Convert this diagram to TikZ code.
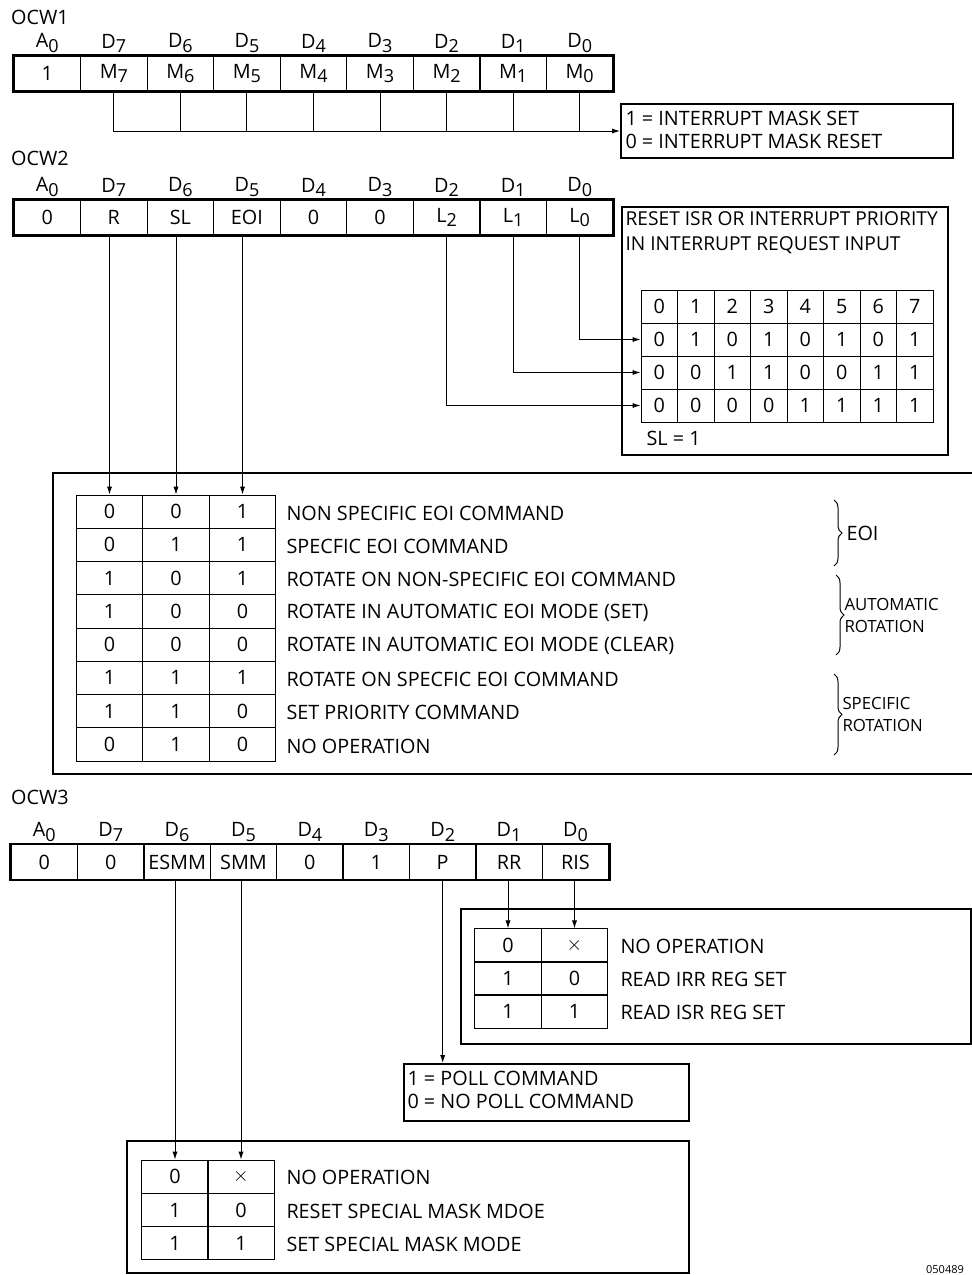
\documentclass[tikz,border=0pt]{standalone}
\usepackage{fontspec}
\setmainfont{Open Sans}
\usetikzlibrary{calc,arrows.meta,decorations.pathreplacing,positioning}

\newcommand{\lowix}[1]{\raisebox{-0.45ex}{\small #1}}
\tikzset{
  reg/.style={draw,line width=0.6pt,minimum width=33.25pt,minimum height=17.5pt,inner sep=0pt},
  bitlbl/.style={inner sep=0pt},
  tcell/.style={draw,line width=0.5pt,minimum width=33.25pt,minimum height=16.6pt,inner sep=0pt},
  pcell/.style={draw,line width=0.5pt,minimum width=18.25pt,minimum height=16.5pt,inner sep=0pt},
  desc/.style={anchor=west,inner sep=0pt},
  frame/.style={draw,line width=1pt,anchor=north west},
  note/.style={anchor=west,align=left,inner sep=0pt,font=\fontsize{9.9}{11.5}\selectfont},
  grp/.style={anchor=west,align=left,inner sep=0pt,font=\fontsize{8.4}{11}\selectfont},
  curly/.style={decorate,decoration={brace,amplitude=4pt},line width=0.5pt},
}

\begin{document}
\begin{tikzpicture}[>={Latex[length=4pt,width=2.6pt]},x=0.5pt,y=-0.5pt,
  font=\fontsize{9.9}{11}\selectfont,line width=0.5pt]
  \useasboundingbox (0,0) rectangle (972,1275);

  % OCW1
  \node[anchor=west] (ocw1) at (4,17) {OCW1};
  \foreach \i/\b/\v in {0/A\lowix{0}/1,1/D\lowix{7}/M\lowix{7},2/D\lowix{6}/M\lowix{6},
      3/D\lowix{5}/M\lowix{5},4/D\lowix{4}/M\lowix{4},5/D\lowix{3}/M\lowix{3},
      6/D\lowix{2}/M\lowix{2},7/D\lowix{1}/M\lowix{1},8/D\lowix{0}/M\lowix{0}} {
    \node[reg] (wa\i) at ({47.3+66.55*\i},73.5) {\v};
    \node[bitlbl,above=1pt of wa\i] {\b};
  }
  \draw[line width=1.2pt] (wa0.north west) rectangle (wa8.south east);
  \node[frame,minimum width=166pt,minimum height=27pt] (mask) at (620,103) {};
  \node[note] (masktxt) at (625,130) {1 = INTERRUPT MASK SET\\0 = INTERRUPT MASK RESET};
  \draw[->] (wa1.south) |- (mask.west);
  \foreach \i in {2,...,8} \draw (wa\i.south) -- (wa\i.south |- mask.west);

  % OCW2
  \node[anchor=west] (ocw2) at (4,158) {OCW2};
  \foreach \i/\b/\v in {0/A\lowix{0}/0,1/D\lowix{7}/R,2/D\lowix{6}/SL,
      3/D\lowix{5}/EOI,4/D\lowix{4}/0,5/D\lowix{3}/0,
      6/D\lowix{2}/L\lowix{2},7/D\lowix{1}/L\lowix{1},8/D\lowix{0}/L\lowix{0}} {
    \node[reg] (wb\i) at ({47.3+66.55*\i},217.5) {\v};
    \node[bitlbl,above=1pt of wb\i] {\b};
  }
  \draw[line width=1.2pt] (wb0.north west) rectangle (wb8.south east);

  % priority levels
  \node[frame,minimum width=163pt,minimum height=124pt] (prio) at (621,206) {};
  \node[note,anchor=north west,font=\fontsize{9.6}{12.5}\selectfont] (priottl) at (625,211)
    {RESET ISR OR INTERRUPT PRIORITY\\IN INTERRUPT REQUEST INPUT};
  \foreach \c in {0,...,7} \node[pcell] (p0-\c) at ({659.25+36.5*\c},306.5) {\c};
  \foreach \r/\vals in {1/{0,1,0,1,0,1,0,1},2/{0,0,1,1,0,0,1,1},3/{0,0,0,0,1,1,1,1}}
    \foreach \v [count=\c from 0] in \vals
      \node[pcell] (p\r-\c) at ({659.25+36.5*\c},{306.5+33*\r}) {\v};
  \node[anchor=west,inner sep=0pt] (slnote) at (646,438) {SL = 1};
  \draw[->] (wb8.south) |- (p1-0.west);
  \draw[->] (wb7.south) |- (p2-0.west);
  \draw[->] (wb6.south) |- (p3-0.west);

  % R, SL, EOI commands
  \node[frame,minimum width=461.5pt,minimum height=150.5pt] (cmdbox) at (52,472) {};
  \foreach \r/\a/\b/\e/\t in {1/0/0/1/NON SPECIFIC EOI COMMAND,2/0/1/1/SPECFIC EOI COMMAND,
      3/1/0/1/ROTATE ON NON-SPECIFIC EOI COMMAND,4/1/0/0/ROTATE IN AUTOMATIC EOI MODE (SET),
      5/0/0/0/ROTATE IN AUTOMATIC EOI MODE (CLEAR),6/1/1/1/ROTATE ON SPECFIC EOI COMMAND,
      7/1/1/0/SET PRIORITY COMMAND,8/0/1/0/NO OPERATION} {
    \node[tcell] (k\r-1) at (109.5,{478.4+33.25*\r}) {\a};
    \node[tcell] (k\r-2) at (176,{478.4+33.25*\r}) {\b};
    \node[tcell] (k\r-3) at (242.5,{478.4+33.25*\r}) {\e};
    \node[desc] (kd\r) at (286,{480+33.25*\r}) {\t};
  }
  \foreach \i in {1,2,3} \draw[->] (wb\i.south -| k1-\i.north) -- (k1-\i.north);
  \draw[curly] (834,500) -- (834,566) node[grp,midway,right=6pt,font=\fontsize{9.9}{11}\selectfont] (geoi) {EOI};
  \draw[curly] (836,575) -- (836,655) node[grp,midway,right=4pt] (gauto) {AUTOMATIC\\ROTATION};
  \draw[curly] (834,674) -- (834,755) node[grp,midway,right=4pt] (gspec) {SPECIFIC\\ROTATION};

  % OCW3
  \node[anchor=west] (ocw3) at (4,797) {OCW3};
  \foreach \i/\b/\v in {0/A\lowix{0}/0,1/D\lowix{7}/0,2/D\lowix{6}/ESMM,
      3/D\lowix{5}/SMM,4/D\lowix{4}/0,5/D\lowix{3}/1,
      6/D\lowix{2}/P,7/D\lowix{1}/RR,8/D\lowix{0}/RIS} {
    \node[reg] (wc\i) at ({44.3+66.4*\i},862) {\v};
    \node[bitlbl,above=1pt of wc\i] {\b};
  }
  \draw[line width=1.2pt] (wc0.north west) rectangle (wc8.south east);

  % RR, RIS
  \node[frame,minimum width=255pt,minimum height=67.5pt] (rrbox) at (460,908) {};
  \foreach \r/\a/\b/\t in {1/0/$\times$/NO OPERATION,2/1/0/READ IRR REG SET,3/1/1/READ ISR REG SET} {
    \node[tcell] (r\r-1) at (508,{912.5+33*\r}) {\a};
    \node[tcell] (r\r-2) at (574.5,{912.5+33*\r}) {\b};
    \node[desc] (rd\r) at (620,{913.5+33*\r}) {\t};
  }
  \draw[->] (wc7.south -| r1-1.north) -- (r1-1.north);
  \draw[->] (wc8.south -| r1-2.north) -- (r1-2.north);

  % P
  \node[frame,minimum width=142.5pt,minimum height=28.5pt] (poll) at (403,1063) {};
  \node[note] (polltxt) at (407,1090) {1 = POLL COMMAND\\0 = NO POLL COMMAND};
  \draw[->] (wc6.south) -- (wc6.south |- poll.north);

  % ESMM, SMM
  \node[frame,minimum width=281pt,minimum height=66pt] (smmbox) at (126,1140) {};
  \foreach \r/\a/\b/\t in {1/0/$\times$/NO OPERATION,2/1/0/RESET SPECIAL MASK MDOE,3/1/1/SET SPECIAL MASK MODE} {
    \node[tcell] (s\r-1) at (175,{1143.4+33.3*\r}) {\a};
    \node[tcell] (s\r-2) at (241,{1143.4+33.3*\r}) {\b};
    \node[desc] (sd\r) at (286,{1144.5+33.3*\r}) {\t};
  }
  \draw[->] (wc2.south -| s1-1.north) -- (s1-1.north);
  \draw[->] (wc3.south -| s1-2.north) -- (s1-2.north);

  \node[anchor=south,font=\fontsize{5.5}{6}\selectfont,inner sep=0pt] (fignum) at (945,1274) {050489};
\end{tikzpicture}
\end{document}
